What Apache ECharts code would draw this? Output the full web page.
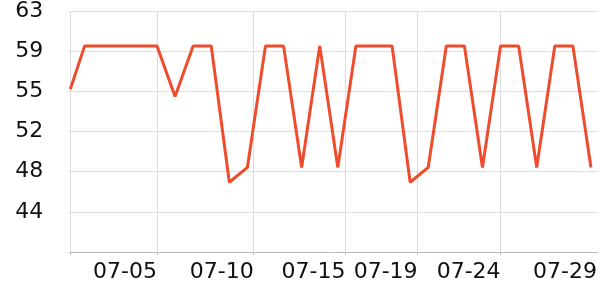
<!DOCTYPE html>
<html>
<head>
<meta charset="utf-8">
<script src="https://cdn.jsdelivr.net/npm/echarts@6/dist/echarts.min.js"></script>
<style>html,body{margin:0;padding:0;background:#fff}#c{width:600px;height:300px}</style>
</head>
<body>
<div id="c"></div>
<script>
// Data: samples (first one at 04:57, then daily)
const dates = ['2024-06-30 04:57','2024-07-01','2024-07-02','2024-07-03','2024-07-04','2024-07-05',
  '2024-07-06','2024-07-07','2024-07-08','2024-07-09','2024-07-10','2024-07-11','2024-07-12',
  '2024-07-13','2024-07-14','2024-07-15','2024-07-16','2024-07-17','2024-07-18','2024-07-19',
  '2024-07-20','2024-07-21','2024-07-22','2024-07-23','2024-07-24','2024-07-25','2024-07-26',
  '2024-07-27','2024-07-28','2024-07-29'];
const values = [55.6, 59.7, 59.7, 59.7, 59.7, 59.7,
  54.9, 59.7, 59.7, 46.8, 48.2, 59.7, 59.7,
  48.2, 59.7, 48.2, 59.7, 59.7, 59.7, 46.8,
  48.2, 59.7, 59.7, 48.2, 59.7, 59.7, 48.2,
  59.7, 59.7, 48.2];
// x-axis tick marks (time of tick) and label texts
const tickTimes = ['2024-07-05 00:00','2024-07-10 08:24','2024-07-15 10:06','2024-07-19 09:54','2024-07-24 00:00'];
const labelTimes = ['2024-07-05 00:00','2024-07-10 08:24','2024-07-15 10:06','2024-07-19 09:54','2024-07-24 00:00','2024-07-29 08:00'];
const tickLabels = ['07-05','07-10','07-15','07-19','07-24','07-29'];
// y-axis
const yMin = 40.2, yMax = 63, yStep = 3.8;

const DAY = 86400000;
function ts(s) {
  const [d, t] = s.split(' ');
  const [Y, M, D] = d.split('-').map(Number);
  let h = 0, m = 0;
  if (t) { [h, m] = t.split(':').map(Number); }
  return Date.UTC(Y, M - 1, D, h, m);
}
const origin = ts('2024-06-30');
function dayNum(s) { return (ts(s) - origin) / DAY; }

const xMin = dayNum(dates[0]);
const xMax = dayNum('2024-07-29') + 9.6 / 24;
const tickVals = [xMin].concat(tickTimes.map(dayNum));
const labelVals = labelTimes.map(dayNum);

const chart = echarts.init(document.getElementById('c'), null, {renderer: 'canvas'});
chart.setOption({
  animation: false,
  grid: {left: 70.3, right: 0, top: 10, bottom: 48, containLabel: false},
  xAxis: {
    type: 'value',
    min: xMin, max: xMax,
    axisLine: {show: true, lineStyle: {color: '#bbbbbb', width: 1}},
    axisTick: {show: true, length: 3, customValues: tickVals, lineStyle: {color: '#bbbbbb'}},
    splitLine: {show: true, lineStyle: {color: '#dddddd', width: 1}},
    axisLabel: {
      customValues: labelVals,
      align: 'right',
      margin: 9,
      fontFamily: 'DejaVu Sans', fontSize: 22, color: '#111',
      formatter: function (v) {
        let best = -1, bd = 1e9;
        labelVals.forEach((lv, i) => { const d = Math.abs(lv - v); if (d < bd) { bd = d; best = i; } });
        return bd < 1e-6 ? tickLabels[best] : '';
      }
    }
  },
  yAxis: {
    type: 'value',
    min: yMin, max: yMax, interval: yStep,
    axisLine: {show: false},
    axisTick: {show: true, length: 2, lineStyle: {color: '#dddddd'}},
    splitLine: {show: true, lineStyle: {color: '#dddddd', width: 1}},
    axisLabel: {
      margin: 27,
      fontFamily: 'DejaVu Sans', fontSize: 22, color: '#111',
      formatter: function (v) { return v <= yMin + 0.01 ? '' : String(Math.round(v)); }
    }
  },
  series: [{
    type: 'line',
    data: dates.map((d, i) => [dayNum(d), values[i]]),
    showSymbol: false,
    symbol: 'none',
    clip: true,
    lineStyle: {color: '#ef4b2d', width: 3},
    itemStyle: {color: '#ef4b2d'}
  }]
});
</script>
</body>
</html>
